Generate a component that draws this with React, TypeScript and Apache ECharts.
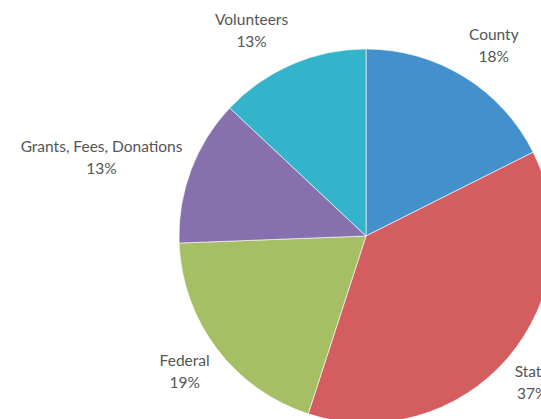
import React, { useEffect, useRef } from "react";
import * as echarts from "echarts";

const categories = ["County", "State", "Federal", "Grants, Fees, Donations", "Volunteers"];
const shares = [17.6, 37.4, 19.4, 12.6, 13.0];
const colors = ["#4391CC", "#D45D5F", "#A6BE64", "#8670AE", "#33B4CB"];

const CX = 366;
const CY = 236;
const R = 187;
const GAP = 9;
const VK = 1.3;

export default function App() {
  const ref = useRef<HTMLDivElement>(null);
  useEffect(() => {
    if (!ref.current) return;
    const chart = echarts.init(ref.current, undefined, { renderer: "svg" });
    const total = shares.reduce((a, b) => a + b, 0);
    const mids: number[] = [];
    let acc = 0;
    shares.forEach((v) => {
      mids.push(((acc + v / 2) / total) * Math.PI * 2);
      acc += v;
    });
    chart.setOption({
      animation: false,
      backgroundColor: "#ffffff",
      series: [
        {
          type: "pie",
          center: [CX, CY],
          radius: R,
          startAngle: 90,
          clockwise: true,
          silent: true,
          avoidLabelOverlap: false,
          data: categories.map((name, i) => ({
            name,
            value: shares[i],
            itemStyle: { color: colors[i] },
          })),
          itemStyle: { borderColor: "#ffffff", borderWidth: 0.6 },
          label: {
            show: true,
            position: "outside",
            formatter: (p: any) => `${p.name}\n${Math.round(p.percent)}%`,
            fontFamily: "Lato",
            fontSize: 15.5,
            lineHeight: 22,
            color: "#555555",
            align: "center",
            overflow: "none",
            bleedMargin: 0,
          },
          labelLine: { show: false },
          labelLayout: (p: any) => {
            const a = mids[p.dataIndex];
            const ux = Math.sin(a);
            const uy = -Math.cos(a);
            const w = p.labelRect.width;
            const h = p.labelRect.height;
            const ax = CX + ux * (R + GAP);
            const ay = CY + uy * (R + GAP);
            return {
              x: ax + (ux >= 0 ? 1 : -1) * (w / 2),
              y: ay + uy * (h / 2) * VK,
              align: "center",
              verticalAlign: "middle",
            };
          },
          emphasis: { disabled: true },
        },
      ],
    });
    return () => chart.dispose();
  }, []);
  return (
    <div
      ref={ref}
      style={{ position: "absolute", left: 0, top: 0, width: 541, height: 419 }}
    />
  );
}
